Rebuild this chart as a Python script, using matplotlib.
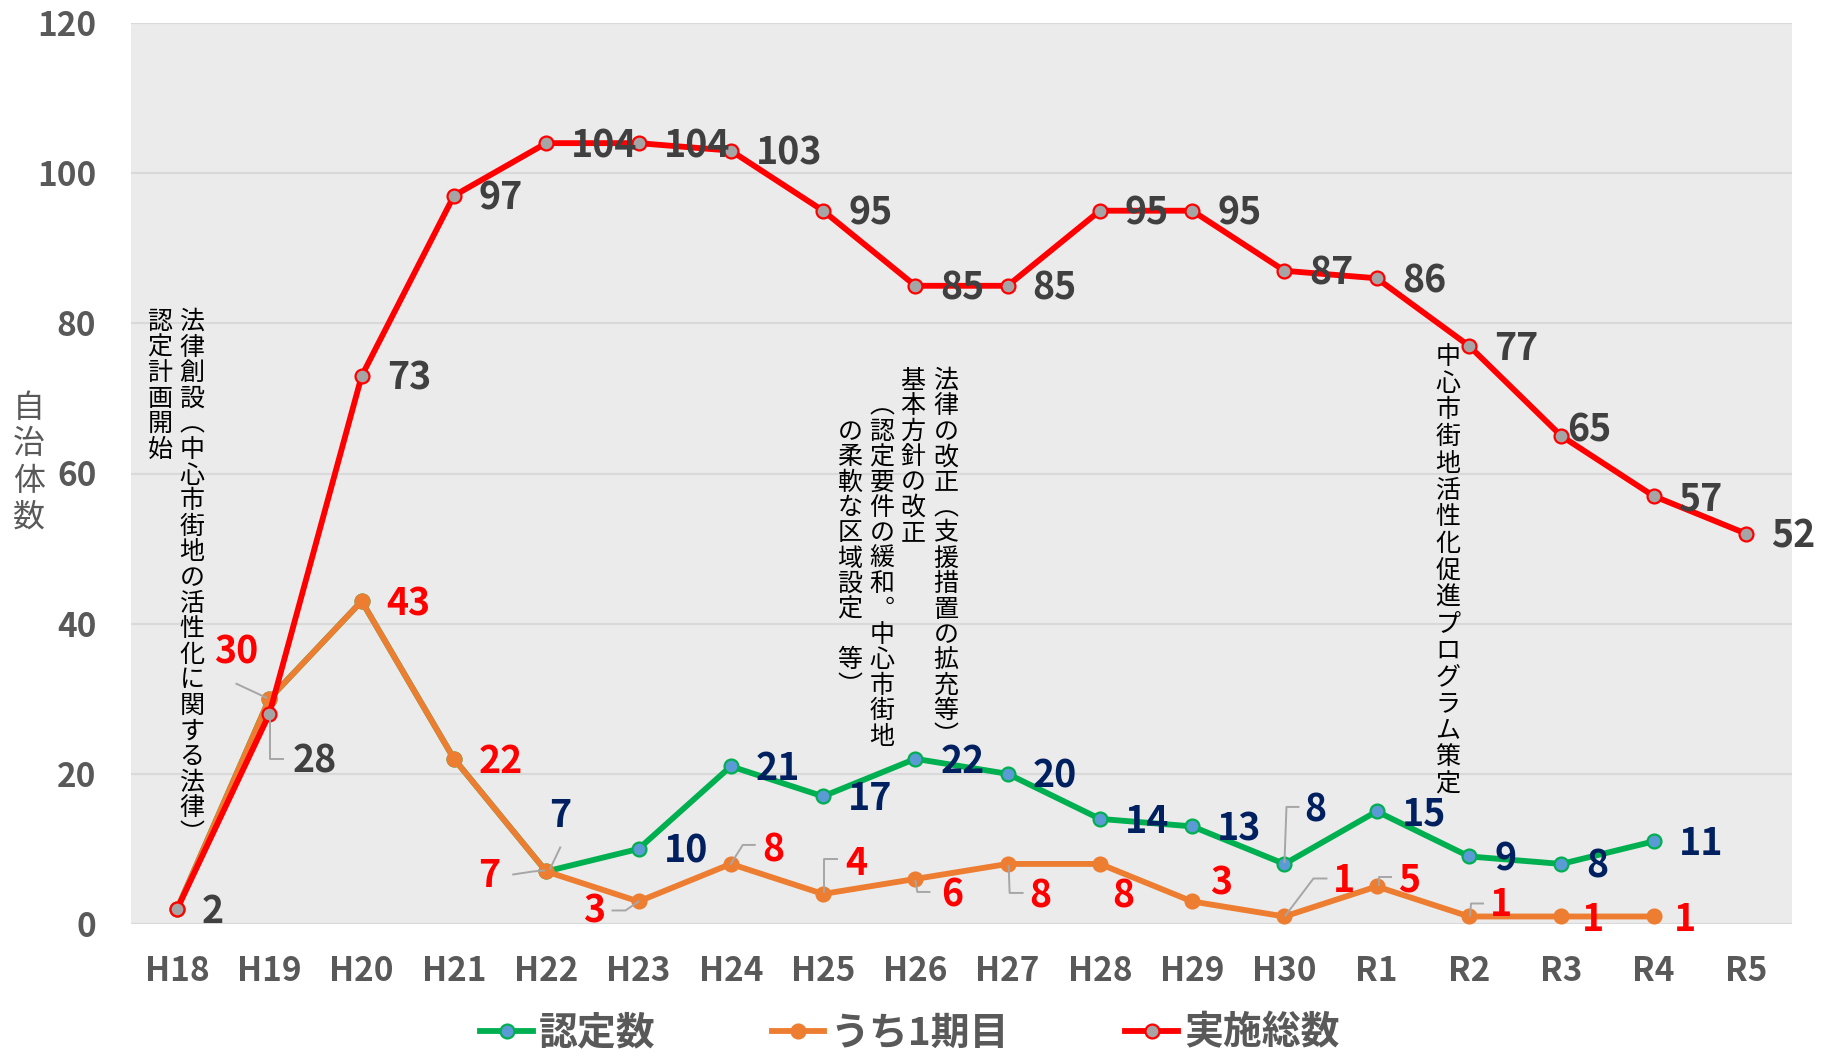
import matplotlib
matplotlib.use("Agg")
import matplotlib.pyplot as plt
from matplotlib.transforms import offset_copy
from matplotlib.lines import Line2D
import numpy as np

plt.rcParams['font.family'] = ['Noto Sans CJK JP', 'DejaVu Sans']

# ---- data ----
years = ["H18", "H19", "H20", "H21", "H22", "H23", "H24", "H25", "H26",
         "H27", "H28", "H29", "H30", "R1", "R2", "R3", "R4", "R5"]
total = [2, 28, 73, 97, 104, 104, 103, 95, 85, 85, 95, 95, 87, 86, 77, 65, 57, 52]
certified = [2, 30, 43, 22, 7, 10, 21, 17, 22, 20, 14, 13, 8, 15, 9, 8, 11, np.nan]
first_term = [2, 30, 43, 22, 7, 3, 8, 4, 6, 8, 8, 3, 1, 5, 1, 1, 1, np.nan]
yticks = [0, 20, 40, 60, 80, 100, 120]
series_names = ["認定数", "うち1期目", "実施総数"]

note_law = ["法律創設︵中心市街地の活性化に関する法律︶", "認定計画開始"]
note_revision = ["法律の改正︵支援措置の拡充等︶", "基本方針の改正",
                 "︵認定要件の緩和︒中心市街地", "の柔軟な区域設定　等︶"]
note_program = "中心市街地活性化促進プログラム策定"

# ---- styles ----
W, H, DPI = 1827, 1050, 100
GREEN, ORANGE, RED = "#00B050", "#ED7D31", "#FF0000"
TICK_C = "#595959"
LEADER_C = "#A6A6A6"

fig = plt.figure(figsize=(W / DPI, H / DPI), dpi=DPI)
L, R, T, B = 131, 1792, 23, 924
ax = fig.add_axes([L / W, 1 - B / H, (R - L) / W, (B - T) / H])
ax.set_facecolor("#EBEBEB")
x = np.arange(len(years))
ax.set_xlim(-0.5, len(years) - 0.5)
ax.set_ylim(0, 120)
ax.set_yticks(yticks)
ax.set_xticks(x)
ax.set_xticklabels(years)
for s in ax.spines.values():
    s.set_visible(False)
ax.yaxis.grid(True, color="#D9D9D9", lw=1.6)
ax.set_axisbelow(True)
ax.tick_params(axis="both", length=0, colors=TICK_C, labelsize=24)
ax.tick_params(axis="y", pad=25)
ax.tick_params(axis="x", pad=22)
for lab in ax.get_xticklabels() + ax.get_yticklabels():
    lab.set_fontweight("bold")

lw = 4.2
ms = 10
ax.plot(x, certified, color=GREEN, lw=lw, marker="o", ms=ms,
        mfc="#5B9BD5", mec=GREEN, mew=1.6, zorder=3)
ax.plot(x, first_term, color=ORANGE, lw=lw, marker="o", ms=ms,
        mfc=ORANGE, mec=ORANGE, mew=1.6, zorder=4)
ax.plot(x, total, color=RED, lw=lw, marker="o", ms=ms,
        mfc="#A5A5A5", mec=RED, mew=1.6, zorder=5)

# ---- data labels ----
inv = fig.transFigure.inverted()


def leader(i, v, pts):
    px, py = ax.transData.transform((i, v))
    disp = [(px + dx, py - dy) for dx, dy in pts]
    fpts = inv.transform(disp)
    fig.add_artist(Line2D(fpts[:, 0], fpts[:, 1], color=LEADER_C, lw=1.4,
                          zorder=6))


def labels(values, color, overrides, skip=()):
    for i, v in enumerate(values):
        if i in skip or np.isnan(v):
            continue
        o = overrides.get(i, {})
        dx = o.get("dx", 25)
        dy = o.get("dy", 0)
        ha = o.get("ha", "left")
        ax.annotate(f"{int(v)}", xy=(i, v), xytext=(dx, -dy - 14),
                    textcoords="offset pixels", ha=ha, va="baseline",
                    fontsize=27, fontweight="bold", color=color, zorder=7,
                    annotation_clip=False)
        if "leader" in o:
            leader(i, v, o["leader"])


labels(total, "#404040", {
    1: dict(dx=23, dy=45, leader=[(1, 3), (1, 45), (14, 45)]),
    15: dict(dx=6, dy=-8),
})
labels(first_term, "#FF0000", {
    1: dict(ha="center", dx=-33, dy=-49, leader=[(-33, -15), (-3, -1)]),
    4: dict(ha="center", dx=-57, dy=2, leader=[(-33, 3), (-13, 0), (-2, -1)]),
    5: dict(ha="center", dx=-44, dy=7, leader=[(-26, 9), (-13, 9), (0, 0)]),
    6: dict(ha="center", dx=43, dy=-16, leader=[(0, 0), (12, -19), (24, -19)]),
    7: dict(ha="center", dx=33, dy=-33, leader=[(1, -2), (1, -35), (14, -35)]),
    8: dict(ha="center", dx=37, dy=14, leader=[(0, 2), (2, 13), (14, 13)]),
    9: dict(ha="center", dx=33, dy=30, leader=[(1, 2), (2, 29), (15, 29)]),
    10: dict(ha="center", dx=23, dy=30),
    11: dict(ha="center", dx=29, dy=-21),
    12: dict(ha="center", dx=60, dy=-38, leader=[(1, -1), (29, -38), (42, -38)]),
    13: dict(ha="center", dx=32, dy=-9, leader=[(2, -1), (2, -9), (14, -9)]),
    14: dict(ha="center", dx=32, dy=-14, leader=[(1, -1), (2, -13), (14, -13)]),
    15: dict(ha="center", dx=32, dy=1),
    16: dict(ha="center", dx=31, dy=1),
}, skip=(0,))
labels(certified, "#002060", {
    4: dict(ha="center", dx=14, dy=-58, leader=[(14, -24), (4, -3)]),
    12: dict(ha="center", dx=31, dy=-56, leader=[(0, -2), (2, -57), (14, -57)]),
}, skip=(0, 1, 2, 3))


# ---- vertical annotations ----
def vtext(xd, yd, text, step, row0=0, size=18):
    for k, ch in enumerate(text):
        if ch == "　":
            continue
        tr = offset_copy(ax.transData, fig=fig, x=0, y=-(row0 + k) * step,
                         units="dots")
        ax.text(xd, yd, ch, transform=tr, ha="center", va="center",
                fontsize=size, color="black", zorder=8)


def px2data(px, py):
    return ax.transData.inverted().transform((px, H - py))


# law creation note (two columns)
xa, ya = px2data(192, 322)
vtext(xa, ya, note_law[0], 25.6)
xa, ya = px2data(160, 322)
vtext(xa, ya, note_law[1], 25.6)

# law revision note (four columns)
cols = [(946, 0), (913, 0), (882, 1), (850, 2)]
for (cx, r0), txt in zip(cols, note_revision):
    xa, ya = px2data(cx, 381)
    vtext(xa, ya, txt, 25.4, row0=r0)

# promotion program note
xa, ya = px2data(1448, 357)
vtext(xa, ya, note_program, 26.7)

# ---- y-axis title (stacked characters) ----
for k, ch in enumerate("自治体数"):
    fig.text(29 / W, 1 - (408 + k * 36.5) / H, ch, ha="center", va="center",
             fontsize=23, color=TICK_C)

# ---- legend ----
handles = [
    Line2D([], [], color=GREEN, lw=lw, marker="o", ms=ms, mfc="#5B9BD5",
           mec=GREEN, mew=1.6),
    Line2D([], [], color=ORANGE, lw=lw, marker="o", ms=ms, mfc=ORANGE,
           mec=ORANGE, mew=1.6),
    Line2D([], [], color=RED, lw=lw, marker="o", ms=ms, mfc="#A5A5A5",
           mec=RED, mew=1.6),
]
leg = fig.legend(handles, series_names, loc="center",
                 bbox_to_anchor=(0.498, 1 - 1033 / H), ncol=3, frameon=False,
                 handlelength=1.35, handletextpad=0.15, columnspacing=3.0,
                 prop=dict(size=28, weight="bold"), borderaxespad=0)
for t in leg.get_texts():
    t.set_color(TICK_C)

fig.savefig("out.png", dpi=DPI)
